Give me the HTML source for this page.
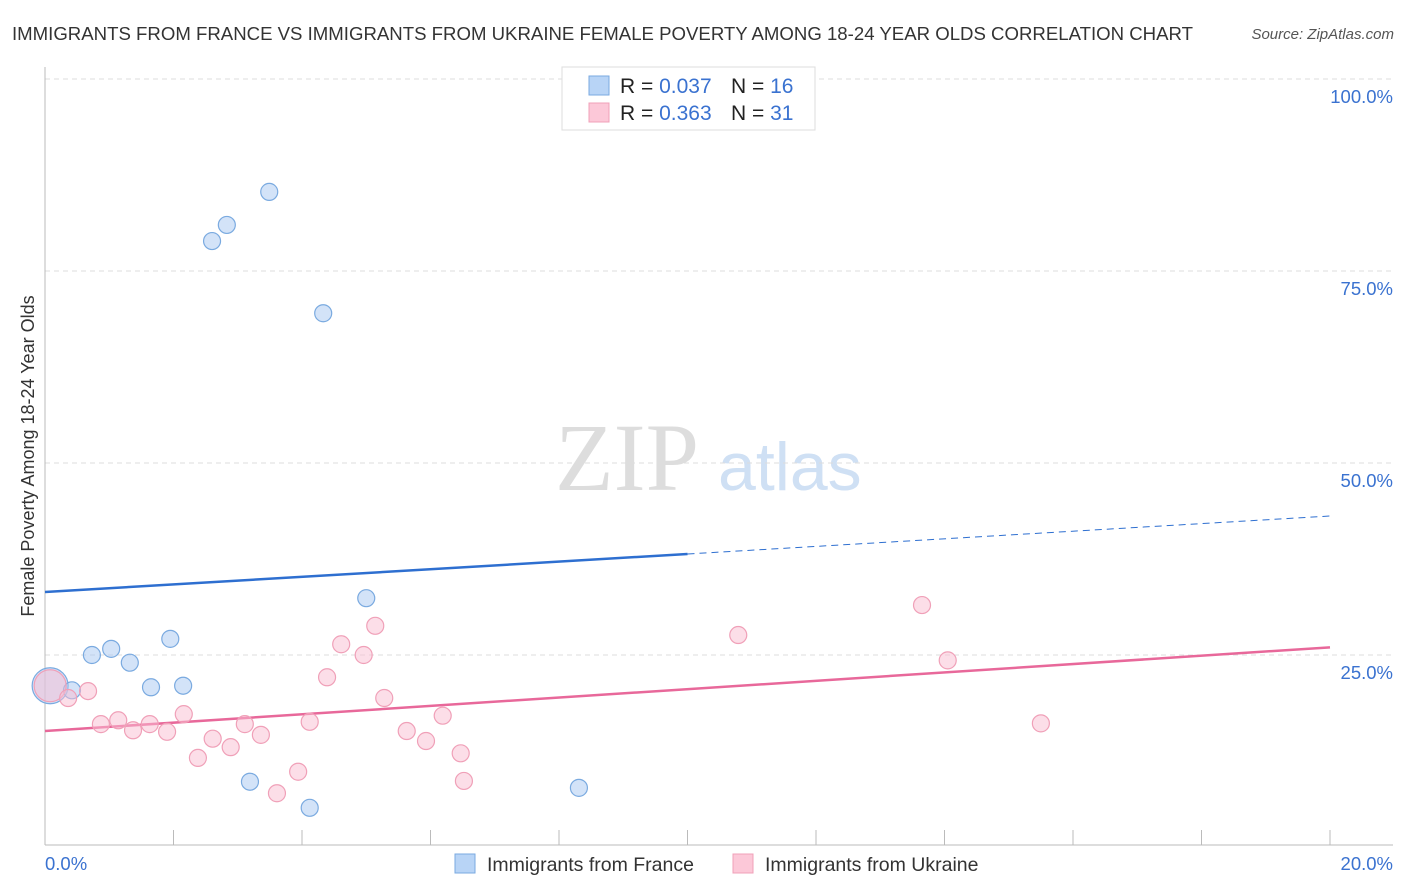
<!DOCTYPE html>
<html><head><meta charset="utf-8"><style>
body{margin:0;background:#fff;font-family:"Liberation Sans",sans-serif;}
svg{display:block}
</style></head><body>
<svg id="chart" width="1406" height="892">
<text x="12" y="40" font-size="18.5" fill="#333" textLength="1181" lengthAdjust="spacingAndGlyphs">IMMIGRANTS FROM FRANCE VS IMMIGRANTS FROM UKRAINE FEMALE POVERTY AMONG 18-24 YEAR OLDS CORRELATION CHART</text>
<text x="1394" y="39" font-size="15" fill="#555" font-style="italic" text-anchor="end">Source: ZipAtlas.com</text>
<text x="34" y="456" font-size="18" fill="#333" text-anchor="middle" transform="rotate(-90 34 456)">Female Poverty Among 18-24 Year Olds</text>
<g><text x="555" y="490" font-size="96" fill="#ddd" font-family="Liberation Serif,serif">ZIP</text><text x="718" y="490" font-size="68" fill="#cfe0f4">atlas</text></g>
<g id="grid"></g><g id="trends"></g><g id="pts"></g>
<g>
<rect x="562" y="67" width="253" height="63" fill="#fff" stroke="#ddd"/>
<rect x="589" y="76" width="20" height="19" fill="#b8d4f6" stroke="#7aaae0"/>
<rect x="589" y="103" width="20" height="19" fill="#fcc8d8" stroke="#f0a0b8"/>
<text x="620" y="93" font-size="21" fill="#222">R = <tspan fill="#3a72d0">0.037</tspan><tspan x="731">N = </tspan><tspan fill="#3a72d0">16</tspan></text>
<text x="620" y="120" font-size="21" fill="#222">R = <tspan fill="#3a72d0"> 0.363</tspan><tspan x="731">N = </tspan><tspan fill="#3a72d0">31</tspan></text>
</g>
<g>
<rect x="455" y="854" width="20" height="19" fill="#b8d4f6" stroke="#7aaae0"/>
<text x="487" y="871" font-size="19.5" fill="#333">Immigrants from France</text>
<rect x="733" y="854" width="20" height="19" fill="#fcc8d8" stroke="#f0a0b8"/>
<text x="765" y="871" font-size="19.5" fill="#333">Immigrants from Ukraine</text>
</g>
</svg>
<script>
const franceX=[0.08,0.42,0.73,1.03,1.32,1.65,1.95,2.15,2.60,2.83,3.49,4.33,5.00,3.19,4.12,8.31];
const franceY=[21.0,20.4,25.0,25.8,24.0,20.8,27.1,21.0,78.9,81.0,85.3,69.5,32.4,8.5,5.1,7.7];
const ukraineX=[0.08,0.36,0.67,0.87,1.14,1.37,1.63,1.90,2.16,2.38,2.61,2.89,3.11,3.36,3.61,3.94,4.12,4.39,4.61,4.96,5.14,5.28,5.63,5.93,6.19,6.47,6.52,10.79,13.65,14.05,15.50];
const ukraineY=[21.0,19.4,20.3,16.0,16.5,15.2,16.0,15.0,17.3,11.6,14.1,13.0,16.0,14.6,7.0,9.8,16.3,22.1,26.4,25.0,28.8,19.4,15.1,13.8,17.1,12.2,8.6,27.6,31.5,24.3,16.1];
const franceTrend=[33.2,43.1];
const ukraineTrend=[15.1,26.0];
const yTicks=[25,50,75,100];
const yTickLabels=["25.0%","50.0%","75.0%","100.0%"];
const xTickLabels=["0.0%","20.0%"];
const NS="http://www.w3.org/2000/svg";
const X=v=>45+v/20*1285, Y=v=>847-v/25*192;
function mk(p,t,a){const e=document.createElementNS(NS,t);for(const k in a)e.setAttribute(k,a[k]);p.appendChild(e);return e;}
const g=document.getElementById('grid');
yTicks.forEach((t,i)=>{
 const l=mk(g,'line',{x1:45,x2:1393,y1:Y(t),y2:Y(t),stroke:'#ddd','stroke-dasharray':'5,4'});
 
 
 const tx=mk(g,'text',{x:1393,y:Y(t)+24,'font-size':18.5,fill:'#3a72d0','text-anchor':'end'});
 tx.textContent=yTickLabels[i];
 
 
});
const ax=mk(g,'line',{x1:45,x2:45,y1:67,y2:845,stroke:'#bbb'});


const bx=mk(g,'line',{x1:45,x2:1393,y1:845,y2:845,stroke:'#bbb'});


for(let i=0;i<=10;i++){const t=mk(g,'line',{x1:X(i*2),x2:X(i*2),y1:830,y2:845,stroke:'#bbb'});
 
 }
[[45,'start',0],[1393,'end',1]].forEach(([x,a,i])=>{const t=mk(g,'text',{x:x,y:870,'font-size':18.5,fill:'#3a72d0','text-anchor':a});t.textContent=xTickLabels[i];
 
 });
const tr=document.getElementById('trends');
const fMid=franceTrend[0]+(franceTrend[1]-franceTrend[0])*0.5;
let l1=mk(tr,'line',{x1:X(0),y1:Y(franceTrend[0]),x2:X(10),y2:Y(fMid),stroke:'#2e6fd0','stroke-width':2.5});


let l2=mk(tr,'line',{x1:X(10),y1:Y(fMid),x2:X(20),y2:Y(franceTrend[1]),stroke:'#2e6fd0','stroke-width':1,'stroke-dasharray':'7,5'});


let l3=mk(tr,'line',{x1:X(0),y1:Y(ukraineTrend[0]),x2:X(20),y2:Y(ukraineTrend[1]),stroke:'#e8689a','stroke-width':2.5});


const pg=document.getElementById('pts');
franceX.forEach((x,i)=>{const c=mk(pg,'circle',{cx:X(x),cy:Y(franceY[i]),r:i==0?18:8.5,fill:'rgba(168,200,242,0.5)',stroke:'#7aaae0','stroke-width':1.2});
 
 });
ukraineX.forEach((x,i)=>{const c=mk(pg,'circle',{cx:X(x),cy:Y(ukraineY[i]),r:i==0?16:8.5,fill:'rgba(250,190,210,0.5)',stroke:'#f0a0b8','stroke-width':1.2});
 
 });
</script>
</body></html>
